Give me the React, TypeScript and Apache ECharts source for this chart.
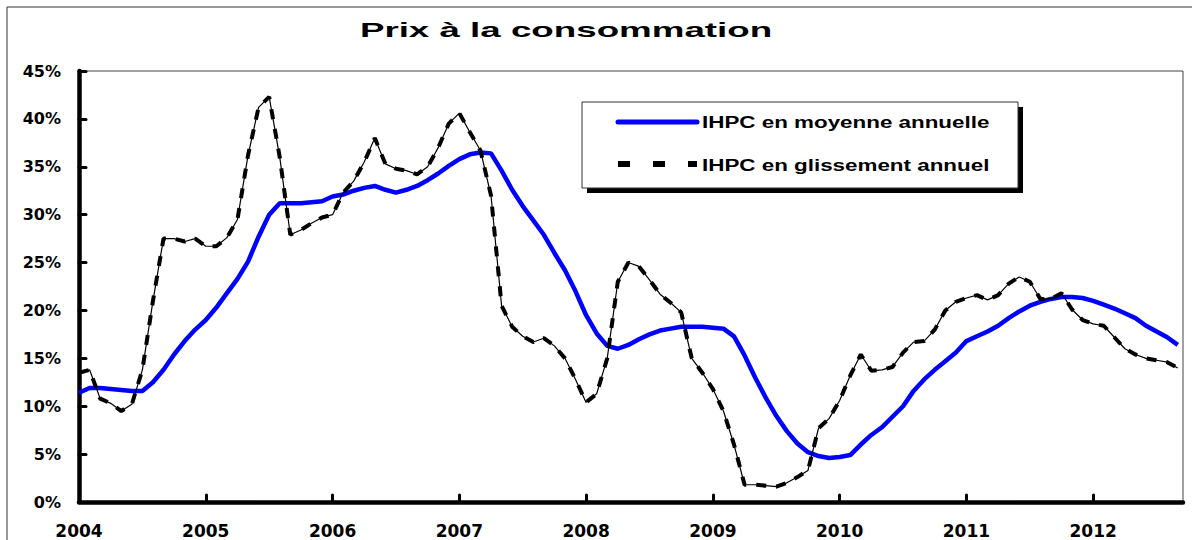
import React, { useEffect, useRef } from "react";
import * as echarts from "echarts";

// Year tick labels (one tick every 12 months, starting January 2004)
const yearLabels = ["2004", "2005", "2006", "2007", "2008", "2009", "2010", "2011", "2012"];

// Monthly values, Jan 2004 -> Sep 2012 (%)
const moyenneAnnuelle = [
  11.4, 11.9, 11.9, 11.8, 11.7, 11.6, 11.6, 12.5, 13.8, 15.4, 16.8, 18.0,
  19.0, 20.3, 21.8, 23.3, 25.1, 27.7, 30.0, 31.2, 31.2, 31.2, 31.3, 31.4,
  31.9, 32.1, 32.5, 32.8, 33.0, 32.6, 32.3, 32.6, 33.0, 33.6, 34.3, 35.1,
  35.8, 36.3, 36.5, 36.4, 34.6, 32.6, 30.9, 29.4, 27.9, 26.0, 24.2, 22.0,
  19.5, 17.6, 16.3, 16.0, 16.4, 17.0, 17.5, 17.9, 18.1, 18.3, 18.3, 18.3,
  18.2, 18.1, 17.3, 15.3, 13.0, 10.9, 9.0, 7.4, 6.1, 5.2, 4.8, 4.6,
  4.7, 4.9, 6.0, 7.0, 7.8, 8.9, 10.0, 11.6, 12.8, 13.8, 14.7, 15.6,
  16.8, 17.3, 17.8, 18.4, 19.2, 19.9, 20.5, 20.9, 21.2, 21.4, 21.4, 21.3,
  21.0, 20.6, 20.2, 19.7, 19.2, 18.4, 17.8, 17.2, 16.4,
];

const glissementAnnuel = [
  13.5, 13.8, 10.8, 10.3, 9.5, 10.2, 13.8, 21.0, 27.5, 27.5, 27.2, 27.5,
  26.7, 26.7, 27.6, 29.5, 36.2, 41.2, 42.3, 36.0, 27.9, 28.4, 29.1, 29.7,
  30.0, 32.3, 33.5, 35.5, 38.0, 35.3, 34.8, 34.6, 34.2, 35.0, 37.0, 39.5,
  40.6, 38.6, 36.7, 32.0, 20.5, 18.3, 17.3, 16.7, 17.1, 16.3, 15.0, 12.8,
  10.4, 11.3, 15.0, 23.0, 25.0, 24.6, 23.2, 21.7, 20.8, 19.8, 15.0, 13.5,
  11.8, 9.5, 6.0, 1.8, 1.8, 1.7, 1.6, 2.0, 2.6, 3.3, 7.7, 8.7,
  10.6, 13.2, 15.4, 13.7, 13.8, 14.1, 15.6, 16.7, 16.8, 18.0, 20.0, 20.9,
  21.3, 21.6, 21.1, 21.6, 22.8, 23.5, 23.0, 21.2, 21.2, 21.8, 20.1, 19.0,
  18.6, 18.4, 17.2, 16.0, 15.4, 15.0, 14.8, 14.6, 14.0,
];

const seriesNames = ["IHPC en moyenne annuelle", "IHPC en glissement annuel"];
const titleText = "Prix à la consommation";

export default function App() {
  const ref = useRef<HTMLDivElement>(null);

  useEffect(() => {
    document.body.style.margin = "0";
    const chart = echarts.init(ref.current as HTMLDivElement, null, { renderer: "svg" });
    const toPairs = (arr: number[]) => arr.map((v, i) => [i, v]);
    const labelFont = "DejaVu Sans";

    chart.setOption({
      animation: false,
      backgroundColor: "#ffffff",
      grid: {
        left: 79,
        top: 71,
        right: 9,
        bottom: 38,
        show: true,
        borderColor: "#444",
        borderWidth: 1,
        backgroundColor: "transparent",
      },
      xAxis: {
        type: "value",
        min: 0,
        max: 104.5,
        interval: 12,
        axisLine: { show: true, lineStyle: { color: "#000", width: 4.5 } },
        axisTick: { show: true, inside: true, length: 7, lineStyle: { color: "#000", width: 3, cap: "round" } },
        axisLabel: {
          showMaxLabel: false,
          formatter: (v: number) => (v % 12 === 0 ? yearLabels[v / 12] ?? "" : ""),
          fontFamily: labelFont,
          fontWeight: "bold",
          fontSize: 17,
          color: "#000",
          margin: 20,
        },
        splitLine: { show: false },
      },
      yAxis: {
        type: "value",
        min: 0,
        max: 45,
        interval: 5,
        axisLine: { show: true, lineStyle: { color: "#000", width: 4.5 } },
        axisTick: { show: true, inside: true, length: 7, lineStyle: { color: "#000", width: 3, cap: "round" } },
        axisLabel: {
          formatter: "{value}%",
          fontFamily: labelFont,
          fontWeight: "bold",
          fontSize: 16,
          color: "#000",
          margin: 18,
        },
        splitLine: { show: false },
      },
      series: [
        {
          name: seriesNames[0],
          type: "line",
          data: toPairs(moyenneAnnuelle),
          symbol: "none",
          showSymbol: false,
          lineStyle: { color: "#0000FF", width: 4.5 },
          z: 3,
        },
        {
          name: seriesNames[1] + " (trait)",
          type: "line",
          data: toPairs(glissementAnnuel),
          symbol: "none",
          showSymbol: false,
          lineStyle: { color: "#000", width: 1.2 },
          z: 4,
        },
        {
          name: seriesNames[1],
          type: "line",
          data: toPairs(glissementAnnuel),
          symbol: "none",
          showSymbol: false,
          lineStyle: { color: "#000", width: 4, type: [10, 10] },
          z: 4,
        },
      ],
      graphic: [
        { type: "line", shape: { x1: 7, y1: 7, x2: 7, y2: 540 }, style: { stroke: "#333", lineWidth: 1 }, z: 10 },
        { type: "line", shape: { x1: 7, y1: 7, x2: 1192, y2: 7 }, style: { stroke: "#333", lineWidth: 1 }, z: 10 },
        {
          type: "text",
          x: 566,
          y: 30,
          scaleX: 1.75,
          z: 10,
          style: {
            text: titleText,
            font: 'bold 21px "Liberation Sans", Arial, sans-serif',
            fill: "#000",
            textAlign: "center",
            textVerticalAlign: "middle",
            align: "center",
            verticalAlign: "middle",
          },
        },
        { type: "rect", shape: { x: 587, y: 107, width: 436, height: 86 }, style: { fill: "#000" }, z: 20 },
        {
          type: "rect",
          shape: { x: 582, y: 102, width: 436, height: 86 },
          style: { fill: "#fff", stroke: "#333", lineWidth: 1 },
          z: 21,
        },
        {
          type: "line",
          shape: { x1: 618, y1: 122, x2: 697, y2: 122 },
          style: { stroke: "#0000FF", lineWidth: 5, lineCap: "round" },
          z: 22,
        },
        {
          type: "line",
          shape: { x1: 618, y1: 164, x2: 697, y2: 164 },
          style: { stroke: "#000", lineWidth: 6, lineDash: [12, 23] },
          z: 22,
        },
        {
          type: "text",
          x: 702,
          y: 122,
          scaleX: 1.4,
          z: 22,
          style: {
            text: seriesNames[0],
            font: 'bold 16px "Liberation Sans", Arial, sans-serif',
            fill: "#000",
            textAlign: "left",
            textVerticalAlign: "middle",
            align: "left",
            verticalAlign: "middle",
          },
        },
        {
          type: "text",
          x: 702,
          y: 165,
          scaleX: 1.4,
          z: 22,
          style: {
            text: seriesNames[1],
            font: 'bold 16px "Liberation Sans", Arial, sans-serif',
            fill: "#000",
            textAlign: "left",
            textVerticalAlign: "middle",
            align: "left",
            verticalAlign: "middle",
          },
        },
      ],
    });

    return () => chart.dispose();
  }, []);

  return <div ref={ref} style={{ width: 1192, height: 540 }} />;
}
